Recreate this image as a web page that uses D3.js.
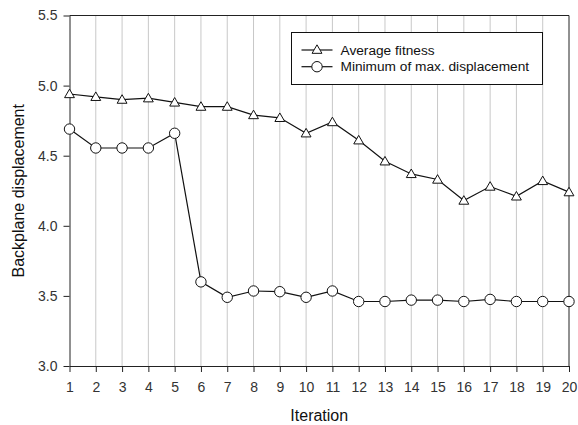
<!DOCTYPE html>
<meta charset="utf-8">
<script src="https://d3js.org/d3.v7.min.js"></script>
<style>
  body { margin: 0; background: #fff; }
  text { font-family: "Liberation Sans", Arial, sans-serif; }
</style>
<div id="chart"></div>
<script>

    // data
    var iterations = [1, 2, 3, 4, 5, 6, 7, 8, 9, 10, 11, 12, 13, 14, 15, 16, 17, 18, 19, 20];
    var avgFitness = [4.94, 4.92, 4.90, 4.91, 4.88, 4.85, 4.85, 4.79, 4.77, 4.66,
                      4.74, 4.61, 4.46, 4.37, 4.33, 4.18, 4.28, 4.21, 4.32, 4.24];
    var minMaxDisp = [4.69, 4.555, 4.555, 4.555, 4.66, 3.60, 3.49, 3.535, 3.53, 3.49,
                      3.535, 3.46, 3.46, 3.47, 3.47, 3.46, 3.475, 3.46, 3.46, 3.46];
    var yTicks = [3.0, 3.5, 4.0, 4.5, 5.0, 5.5];
    var seriesNames = ["Average fitness", "Minimum of max. displacement"];

    var W = 578, H = 425;
    var margin = { top: 15.5, right: 9, bottom: 59, left: 69.5 },
        width = W - margin.left - margin.right,
        height = H - margin.top - margin.bottom;

    var svg = d3.select("#chart")
        .append("svg")
        .attr("width", W)
        .attr("height", H);

    var g = svg.append("g")
        .attr("transform", "translate(" + margin.left + "," + margin.top + ")");

    var x = d3.scaleLinear().domain([1, 20]).range([0, width]);
    var y = d3.scaleLinear().domain([3, 5.5]).range([height, 0]);

    // vertical grid lines
    g.selectAll(".grid")
        .data(iterations.slice(1, -1))
        .enter()
        .append("line")
        .attr("x1", function (d) { return x(d) })
        .attr("x2", function (d) { return x(d) })
        .attr("y1", 0)
        .attr("y2", height)
        .attr("stroke", "#c8c8c8")
        .attr("stroke-width", 1);

    // frame (top and right)
    g.append("line").attr("x1", 0).attr("x2", width).attr("y1", 0).attr("y2", 0)
        .attr("stroke", "#222");
    g.append("line").attr("x1", width).attr("x2", width).attr("y1", 0).attr("y2", height)
        .attr("stroke", "#222");

    // axes
    var xAxis = g.append("g")
        .attr("transform", "translate(0," + height + ")")
        .call(d3.axisBottom(x).tickValues(iterations).tickFormat(d3.format("d"))
            .tickSize(6).tickSizeOuter(0));
    var yAxis = g.append("g")
        .call(d3.axisLeft(y).tickValues(yTicks).tickFormat(d3.format(".1f"))
            .tickSize(6).tickSizeOuter(0));

    [xAxis, yAxis].forEach(function (a) {
        a.select(".domain").attr("stroke", "#222");
        a.selectAll(".tick line").attr("stroke", "#222");
        a.selectAll(".tick text")
            .attr("fill", "#333")
            .style("font-size", "14px")
            .style("font-family", "'Liberation Sans', Arial, sans-serif");
    });
    xAxis.selectAll(".tick text").attr("dy", "1.2em");
    yAxis.selectAll(".tick text").attr("x", -12);

    // axis titles
    svg.append("text")
        .attr("x", margin.left + width / 2)
        .attr("y", 421)
        .attr("text-anchor", "middle")
        .style("font-size", "16px")
        .attr("fill", "#111")
        .text("Iteration");

    svg.append("text")
        .attr("transform", "translate(24," + (margin.top + height / 2) + ") rotate(-90)")
        .attr("text-anchor", "middle")
        .style("font-size", "16px")
        .attr("fill", "#111")
        .text("Backplane displacement");

    var line = d3.line()
        .x(function (d, i) { return x(iterations[i]) })
        .y(function (d) { return y(d) });

    var tri = d3.symbol().type(d3.symbolTriangle).size(42);

    // average fitness
    g.append("path")
        .datum(avgFitness)
        .attr("fill", "none")
        .attr("stroke", "#111")
        .attr("stroke-width", 1.2)
        .attr("d", line);

    g.selectAll(".tri")
        .data(avgFitness)
        .enter()
        .append("path")
        .attr("d", tri)
        .attr("transform", function (d, i) { return "translate(" + x(iterations[i]) + "," + (y(d) + 0.8) + ")" })
        .attr("fill", "white")
        .attr("stroke", "#111")
        .attr("stroke-width", 1);

    // minimum of max displacement
    g.append("path")
        .datum(minMaxDisp)
        .attr("fill", "none")
        .attr("stroke", "#111")
        .attr("stroke-width", 1.2)
        .attr("d", line);

    g.selectAll(".circ")
        .data(minMaxDisp)
        .enter()
        .append("circle")
        .attr("cx", function (d, i) { return x(iterations[i]) })
        .attr("cy", function (d) { return y(d) })
        .attr("r", 5.2)
        .attr("fill", "white")
        .attr("stroke", "#111")
        .attr("stroke-width", 1);

    // legend
    var lg = svg.append("g").attr("transform", "translate(291.5,32.5)");
    lg.append("rect")
        .attr("width", 251)
        .attr("height", 52)
        .attr("fill", "white")
        .attr("stroke", "#111")
        .attr("stroke-width", 1);

    seriesNames.forEach(function (name, i) {
        var ly = 17.5 + i * 16.7;
        lg.append("line")
            .attr("x1", 10).attr("x2", 41)
            .attr("y1", ly).attr("y2", ly)
            .attr("stroke", "#111").attr("stroke-width", 1.2);
        if (i === 0) {
            lg.append("path")
                .attr("d", tri)
                .attr("transform", "translate(25.5," + (ly + 0.5) + ")")
                .attr("fill", "white").attr("stroke", "#111");
        } else {
            lg.append("circle")
                .attr("cx", 25.5).attr("cy", ly).attr("r", 5.2)
                .attr("fill", "white").attr("stroke", "#111");
        }
        lg.append("text")
            .attr("x", 49)
            .attr("y", ly)
            .attr("dy", "0.35em")
            .style("font-size", "13.7px")
            .attr("fill", "#111")
            .text(name);
    });

</script>
